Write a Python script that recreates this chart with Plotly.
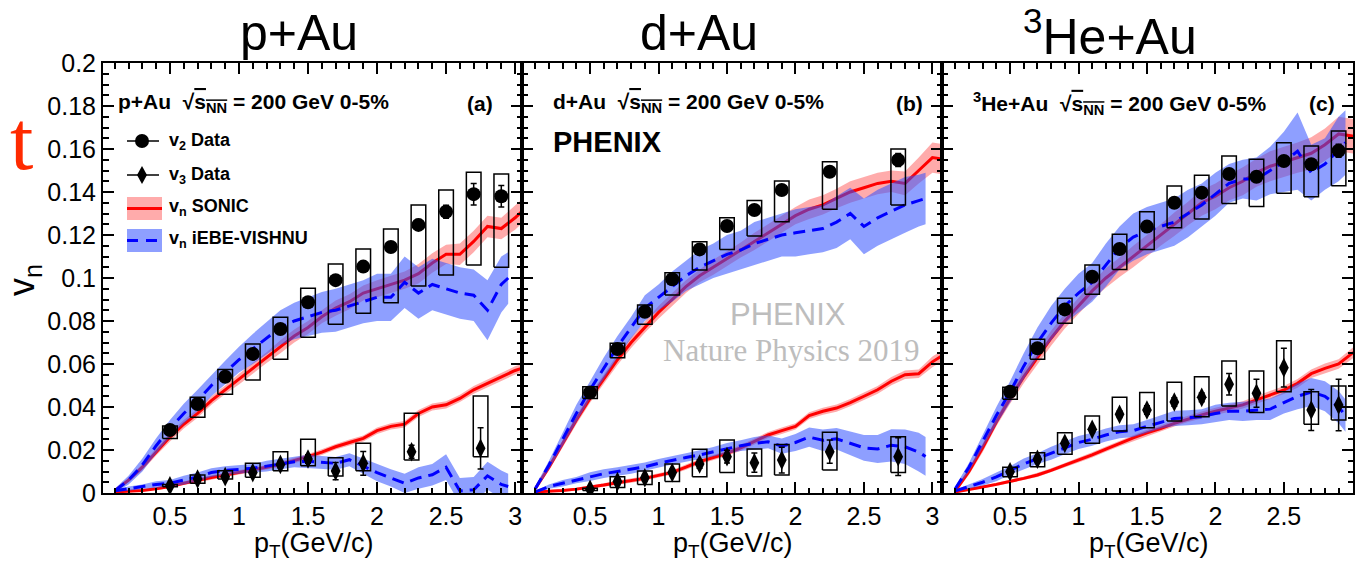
import plotly.graph_objects as go

W, H = 1358, 563

# ---------------- data ----------------
PT_SONIC = [0.1, 0.2, 0.3, 0.4, 0.5, 0.6, 0.7, 0.8, 0.9, 1.0, 1.1, 1.2, 1.3, 1.4, 1.5, 1.6,
            1.7, 1.8, 1.9, 2.0, 2.1, 2.2, 2.3, 2.4, 2.5, 2.6, 2.7, 2.8, 2.9, 3.0, 3.1]
PT_VISHNU = [0.1, 0.2, 0.3, 0.4, 0.5, 0.6, 0.7, 0.8, 0.9, 1.0, 1.1, 1.2, 1.3, 1.4, 1.5, 1.6,
             1.7, 1.8, 1.9, 2.0, 2.1, 2.2, 2.3, 2.4, 2.5, 2.6, 2.7, 2.8, 2.9, 2.95]

# ---- p+Au ----
PT_A_V2 = [0.5, 0.7, 0.9, 1.1, 1.3, 1.5, 1.7, 1.9, 2.1, 2.3, 2.5, 2.7, 2.9]
V2_A = [0.0293, 0.0414, 0.0541, 0.0647, 0.0763, 0.0887, 0.099, 0.1053, 0.1144, 0.1247, 0.1308, 0.139, 0.138]
V2_A_STAT = [0.0008, 0.0008, 0.001, 0.001, 0.0012, 0.0012, 0.0015, 0.0015, 0.002, 0.0025, 0.003, 0.005, 0.005]
V2_A_SYS_LO = [0.0254, 0.0352, 0.0459, 0.0526, 0.0622, 0.0724, 0.0785, 0.0836, 0.0885, 0.0963, 0.1014, 0.106, 0.105]
V2_A_SYS_HI = [0.0312, 0.0445, 0.0575, 0.0693, 0.0817, 0.0952, 0.1065, 0.1135, 0.1228, 0.134, 0.1409, 0.1492, 0.1484]
PT_A_V3 = [0.5, 0.7, 0.9, 1.1, 1.3, 1.5, 1.7, 1.9, 2.25, 2.75]
V3_A = [0.0034, 0.0065, 0.0076, 0.0095, 0.0133, 0.0158, 0.0102, 0.0138, 0.0192, 0.0208]
V3_A_STAT = [0.0012, 0.0015, 0.0015, 0.0015, 0.0015, 0.002, 0.004, 0.0055, 0.003, 0.0096]
V3_A_SYS_LO = [0.0029, 0.0045, 0.0065, 0.0073, 0.0104, 0.0127, 0.0079, 0.0104, 0.0153, 0.0169]
V3_A_SYS_HI = [0.0039, 0.0084, 0.0104, 0.0138, 0.0192, 0.025, 0.0164, 0.0231, 0.0371, 0.0451]

SONIC_V2_A = [0.001, 0.006, 0.012, 0.019, 0.026, 0.032, 0.037, 0.043, 0.048, 0.053, 0.058, 0.063, 0.068, 0.073, 0.077, 0.082,
              0.086, 0.089, 0.093, 0.095, 0.097, 0.099, 0.102, 0.107, 0.111, 0.111, 0.117, 0.124, 0.123, 0.128, 0.134]
SONIC_V2_A_ERR = [0.001, 0.001, 0.0015, 0.0015, 0.002, 0.002, 0.002, 0.002, 0.002, 0.0025, 0.0025, 0.0025, 0.003, 0.003, 0.003, 0.003,
                  0.0035, 0.0035, 0.0035, 0.004, 0.004, 0.004, 0.0045, 0.0045, 0.0045, 0.005, 0.005, 0.005, 0.005, 0.0055, 0.0055]
SONIC_V3_A = [0.0005, 0.0008, 0.0012, 0.002, 0.003, 0.0045, 0.006, 0.0072, 0.0084, 0.0095, 0.0107, 0.012, 0.0133, 0.015, 0.0169, 0.019,
              0.0215, 0.0235, 0.0254, 0.029, 0.031, 0.032, 0.037, 0.040, 0.041, 0.044, 0.048, 0.051, 0.054, 0.057, 0.059]
SONIC_V3_A_ERR = [0.0005, 0.0005, 0.0005, 0.0007, 0.0008, 0.0008, 0.001, 0.001, 0.001, 0.001, 0.001, 0.001, 0.0012, 0.0012, 0.0012, 0.0013,
                  0.0013, 0.0014, 0.0014, 0.0015, 0.0015, 0.0015, 0.0016, 0.0016, 0.0017, 0.0017, 0.0018, 0.0018, 0.0019, 0.0019, 0.002]
VISHNU_V2_A = [0.001, 0.006, 0.013, 0.022, 0.030, 0.037, 0.043, 0.050, 0.056, 0.062, 0.067, 0.072, 0.077, 0.080, 0.082,
               0.084, 0.085, 0.087, 0.089, 0.091, 0.091, 0.098, 0.093, 0.097, 0.095, 0.093, 0.092, 0.085, 0.097, 0.100]
VISHNU_V2_A_ERR = [0.001, 0.002, 0.003, 0.0035, 0.004, 0.0045, 0.005, 0.005, 0.0055, 0.006, 0.007, 0.0075, 0.008, 0.0085, 0.009,
                   0.0095, 0.01, 0.01, 0.01, 0.011, 0.011, 0.012, 0.012, 0.012, 0.012, 0.012, 0.012, 0.014, 0.013, 0.012]
VISHNU_V3_A = [0.001, 0.002, 0.003, 0.004, 0.0045, 0.006, 0.0075, 0.0095, 0.0105, 0.011, 0.0115, 0.0125, 0.0135, 0.0145, 0.0148,
               0.0142, 0.0138, 0.0155, 0.0125, 0.0095, 0.007, 0.0045, 0.007, 0.0085, 0.012, 0.001, 0.0015, 0.008, 0.004, 0.003]
VISHNU_V3_A_ERR = [0.0005, 0.001, 0.001, 0.0015, 0.0015, 0.002, 0.002, 0.002, 0.002, 0.002, 0.002, 0.0025, 0.0025, 0.0025, 0.003,
                   0.003, 0.003, 0.003, 0.0035, 0.004, 0.004, 0.0045, 0.005, 0.005, 0.006, 0.006, 0.006, 0.0065, 0.0065, 0.006]

# ---- d+Au ----
PT_B = [0.5, 0.7, 0.9, 1.1, 1.3, 1.5, 1.7, 1.9, 2.25, 2.75]
V2_B = [0.0468, 0.067, 0.0843, 0.0994, 0.1133, 0.1242, 0.1316, 0.1409, 0.1494, 0.1549]
V2_B_STAT = [0.0008, 0.0008, 0.001, 0.001, 0.0012, 0.0012, 0.0015, 0.0015, 0.002, 0.003]
V2_B_SYS_LO = [0.044, 0.0629, 0.0785, 0.0921, 0.1037, 0.1133, 0.1195, 0.1262, 0.132, 0.134]
V2_B_SYS_HI = [0.0494, 0.0696, 0.0874, 0.1025, 0.1169, 0.128, 0.136, 0.1451, 0.1541, 0.16]
V3_B = [0.0017, 0.0053, 0.0071, 0.0095, 0.0135, 0.0169, 0.0141, 0.0153, 0.0192, 0.0169]
V3_B_STAT = [0.0012, 0.0015, 0.0015, 0.0015, 0.002, 0.003, 0.0045, 0.006, 0.0054, 0.0088]
V3_B_SYS_LO = [0.0012, 0.0026, 0.004, 0.0053, 0.0076, 0.0095, 0.0079, 0.0084, 0.0107, 0.0095]
V3_B_SYS_HI = [0.0022, 0.0076, 0.0102, 0.0135, 0.0203, 0.0247, 0.0205, 0.0226, 0.0282, 0.0262]

SONIC_V2_B = [0.002, 0.012, 0.023, 0.034, 0.044, 0.053, 0.062, 0.070, 0.077, 0.084, 0.090, 0.096, 0.101, 0.105, 0.109, 0.113,
              0.117, 0.121, 0.125, 0.129, 0.132, 0.134, 0.137, 0.140, 0.142, 0.144, 0.145, 0.144, 0.150, 0.156, 0.155]
SONIC_V2_B_ERR = [0.001, 0.0015, 0.0015, 0.002, 0.002, 0.002, 0.0025, 0.0025, 0.0025, 0.003, 0.003, 0.003, 0.003, 0.0035, 0.0035, 0.0035,
                  0.004, 0.004, 0.004, 0.004, 0.0045, 0.0045, 0.0045, 0.005, 0.005, 0.005, 0.005, 0.0055, 0.006, 0.007, 0.007]
SONIC_V3_B = [0.0005, 0.0008, 0.0012, 0.0018, 0.0026, 0.0037, 0.0048, 0.0058, 0.0068, 0.0082, 0.0096, 0.012, 0.0146, 0.0165, 0.0185, 0.021,
              0.024, 0.027, 0.029, 0.031, 0.036, 0.038, 0.0395, 0.042, 0.045, 0.048, 0.052, 0.055, 0.0555, 0.061, 0.065]
SONIC_V3_B_ERR = [0.0005, 0.0005, 0.0005, 0.0007, 0.0008, 0.0008, 0.001, 0.001, 0.001, 0.001, 0.001, 0.0012, 0.0012, 0.0012, 0.0013, 0.0013,
                  0.0014, 0.0014, 0.0015, 0.0015, 0.0016, 0.0016, 0.0017, 0.0017, 0.0018, 0.0018, 0.0019, 0.002, 0.002, 0.0025, 0.0025]
VISHNU_V2_B = [0.002, 0.013, 0.025, 0.037, 0.048, 0.058, 0.068, 0.077, 0.086, 0.091, 0.096, 0.101, 0.105, 0.108, 0.111,
               0.113, 0.116, 0.118, 0.120, 0.121, 0.122, 0.123, 0.126, 0.130, 0.124, 0.128, 0.131, 0.134, 0.136, 0.137]
VISHNU_V2_B_ERR = [0.001, 0.002, 0.003, 0.004, 0.004, 0.005, 0.005, 0.005, 0.006, 0.006, 0.007, 0.007, 0.008, 0.008, 0.009,
                   0.009, 0.01, 0.01, 0.01, 0.011, 0.011, 0.011, 0.012, 0.012, 0.013, 0.013, 0.013, 0.013, 0.012, 0.012]
VISHNU_V3_B = [0.0005, 0.003, 0.0045, 0.006, 0.0076, 0.009, 0.010, 0.011, 0.0122, 0.0138, 0.0153, 0.0165, 0.0177, 0.0192, 0.0208,
               0.022, 0.0231, 0.0238, 0.0218, 0.0235, 0.026, 0.0245, 0.0252, 0.023, 0.021, 0.0205, 0.0222, 0.0215, 0.019, 0.017]
VISHNU_V3_B_ERR = [0.0005, 0.001, 0.0015, 0.0015, 0.002, 0.002, 0.002, 0.002, 0.002, 0.002, 0.002, 0.002, 0.0022, 0.0022, 0.0025,
                   0.0025, 0.003, 0.003, 0.0035, 0.004, 0.0045, 0.005, 0.005, 0.0055, 0.006, 0.0065, 0.0075, 0.008, 0.009, 0.009]

# ---- 3He+Au ----
PT_C = [0.5, 0.7, 0.9, 1.1, 1.3, 1.5, 1.7, 1.9, 2.1, 2.3, 2.5, 2.7, 2.9]
V2_C = [0.0471, 0.0673, 0.0854, 0.1006, 0.1135, 0.1239, 0.135, 0.1397, 0.1484, 0.1471, 0.1544, 0.1529, 0.1592]
V2_C_STAT = [0.0008, 0.0008, 0.001, 0.001, 0.001, 0.0012, 0.0012, 0.0015, 0.0015, 0.002, 0.002, 0.0025, 0.003]
V2_C_SYS_LO = [0.0436, 0.0622, 0.0789, 0.0924, 0.104, 0.1133, 0.1234, 0.1274, 0.1347, 0.1332, 0.1394, 0.1378, 0.1429]
V2_C_SYS_HI = [0.0492, 0.0715, 0.0906, 0.106, 0.1203, 0.1308, 0.1428, 0.1478, 0.1567, 0.1552, 0.1629, 0.1614, 0.1684]
V3_C = [0.0099, 0.0157, 0.0231, 0.0296, 0.0366, 0.0386, 0.0423, 0.0445, 0.0506, 0.0464, 0.0583, 0.0386, 0.0409]
V3_C_STAT = [0.0012, 0.0015, 0.0015, 0.0015, 0.0015, 0.002, 0.002, 0.002, 0.005, 0.0065, 0.009, 0.0095, 0.012]
V3_C_SYS_LO = [0.0076, 0.0122, 0.018, 0.0231, 0.0288, 0.0304, 0.0335, 0.0355, 0.0405, 0.0374, 0.0471, 0.032, 0.034]
V3_C_SYS_HI = [0.012, 0.0187, 0.028, 0.0358, 0.0445, 0.0467, 0.0515, 0.0541, 0.0614, 0.0567, 0.0708, 0.0471, 0.0498]

SONIC_V2_C = [0.001, 0.010, 0.021, 0.033, 0.044, 0.054, 0.063, 0.072, 0.080, 0.087, 0.094, 0.100, 0.105, 0.110, 0.115, 0.120,
              0.125, 0.130, 0.135, 0.138, 0.142, 0.145, 0.149, 0.152, 0.154, 0.156, 0.158, 0.162, 0.167, 0.166, 0.165]
SONIC_V2_C_ERR = [0.001, 0.0015, 0.002, 0.002, 0.0025, 0.003, 0.003, 0.0035, 0.0035, 0.004, 0.004, 0.0045, 0.0045, 0.005, 0.005, 0.005,
                  0.0055, 0.0055, 0.006, 0.006, 0.006, 0.0065, 0.0065, 0.007, 0.007, 0.007, 0.0075, 0.0075, 0.008, 0.008, 0.008]
SONIC_V3_C = [0.0005, 0.0015, 0.0028, 0.004, 0.0053, 0.0068, 0.0084, 0.0105, 0.013, 0.0153, 0.0177, 0.0204, 0.0231, 0.0256, 0.028, 0.030,
              0.0324, 0.0345, 0.0363, 0.038, 0.0394, 0.041, 0.0433, 0.0455, 0.0479, 0.051, 0.0555, 0.058, 0.060, 0.065, 0.068]
SONIC_V3_C_ERR = [0.0005, 0.0005, 0.0006, 0.0007, 0.0008, 0.0008, 0.001, 0.001, 0.001, 0.0011, 0.0012, 0.0012, 0.0013, 0.0013, 0.0014, 0.0014,
                  0.0015, 0.0015, 0.0016, 0.0016, 0.0017, 0.0017, 0.0018, 0.0018, 0.0019, 0.002, 0.002, 0.0022, 0.0022, 0.0025, 0.0025]
VISHNU_V2_C = [0.002, 0.012, 0.024, 0.036, 0.047, 0.059, 0.070, 0.079, 0.087, 0.093, 0.098, 0.106, 0.114, 0.119, 0.122,
               0.124, 0.126, 0.130, 0.134, 0.139, 0.144, 0.146, 0.146, 0.150, 0.154, 0.159, 0.149, 0.153, 0.160, 0.163]
VISHNU_V2_C_ERR = [0.001, 0.002, 0.003, 0.004, 0.005, 0.006, 0.007, 0.008, 0.008, 0.009, 0.009, 0.01, 0.01, 0.011, 0.011,
                   0.011, 0.011, 0.011, 0.01, 0.01, 0.009, 0.009, 0.01, 0.011, 0.014, 0.018, 0.013, 0.012, 0.015, 0.015]
VISHNU_V3_C = [0.001, 0.003, 0.005, 0.0075, 0.0105, 0.0135, 0.016, 0.0185, 0.021, 0.0235, 0.025, 0.027, 0.0285, 0.029, 0.031,
               0.033, 0.0347, 0.035, 0.0355, 0.037, 0.038, 0.038, 0.0385, 0.039, 0.042, 0.045, 0.047, 0.045, 0.040, 0.036]
VISHNU_V3_C_ERR = [0.0005, 0.001, 0.0015, 0.002, 0.002, 0.0025, 0.0025, 0.003, 0.003, 0.003, 0.003, 0.003, 0.003, 0.003, 0.003,
                   0.003, 0.0035, 0.0035, 0.0035, 0.004, 0.004, 0.0045, 0.0045, 0.005, 0.005, 0.006, 0.0065, 0.007, 0.0075, 0.0075]

SYSTEMS = ["p+Au", "d+Au", "<sup>3</sup>He+Au"]
PANEL_TAGS = ["(a)", "(b)", "(c)"]
X_TICKS = [0.5, 1, 1.5, 2, 2.5, 3]
X_TICK_TEXT = ["0.5", "1", "1.5", "2", "2.5", "3"]
Y_TICKS = [0, 0.02, 0.04, 0.06, 0.08, 0.1, 0.12, 0.14, 0.16, 0.18, 0.2]
Y_TICK_TEXT = ["0", "0.02", "0.04", "0.06", "0.08", "0.1", "0.12", "0.14", "0.16", "0.18", "0.2"]

PANELS = [
    dict(pt2=PT_A_V2, v2=V2_A, v2s=V2_A_STAT, v2lo=V2_A_SYS_LO, v2hi=V2_A_SYS_HI,
         pt3=PT_A_V3, v3=V3_A, v3s=V3_A_STAT, v3lo=V3_A_SYS_LO, v3hi=V3_A_SYS_HI,
         s2=SONIC_V2_A, s2e=SONIC_V2_A_ERR, s3=SONIC_V3_A, s3e=SONIC_V3_A_ERR,
         h2=VISHNU_V2_A, h2e=VISHNU_V2_A_ERR, h3=VISHNU_V3_A, h3e=VISHNU_V3_A_ERR),
    dict(pt2=PT_B, v2=V2_B, v2s=V2_B_STAT, v2lo=V2_B_SYS_LO, v2hi=V2_B_SYS_HI,
         pt3=PT_B, v3=V3_B, v3s=V3_B_STAT, v3lo=V3_B_SYS_LO, v3hi=V3_B_SYS_HI,
         s2=SONIC_V2_B, s2e=SONIC_V2_B_ERR, s3=SONIC_V3_B, s3e=SONIC_V3_B_ERR,
         h2=VISHNU_V2_B, h2e=VISHNU_V2_B_ERR, h3=VISHNU_V3_B, h3e=VISHNU_V3_B_ERR),
    dict(pt2=PT_C, v2=V2_C, v2s=V2_C_STAT, v2lo=V2_C_SYS_LO, v2hi=V2_C_SYS_HI,
         pt3=PT_C, v3=V3_C, v3s=V3_C_STAT, v3lo=V3_C_SYS_LO, v3hi=V3_C_SYS_HI,
         s2=SONIC_V2_C, s2e=SONIC_V2_C_ERR, s3=SONIC_V3_C, s3e=SONIC_V3_C_ERR,
         h2=VISHNU_V2_C, h2e=VISHNU_V2_C_ERR, h3=VISHNU_V3_C, h3e=VISHNU_V3_C_ERR),
]

# ---------------- styles ----------------
RED = "#ff0000"
RED_BAND = "rgba(255,0,0,0.33)"
BLUE = "#0000ff"
BLUE_BAND = "rgba(50,80,255,0.55)"
DASH = "12px,7px"
BOX_HW = 0.053
FONT = "Liberation Sans, Arial, Helvetica, sans-serif"

X_RANGES = [[0.015, 3.05], [0.003, 3.07], [0.003, 3.005]]
X_DOMAINS_PX = [(103, 522), (522, 942), (942, 1353)]
Y_DOMAIN_PX = (493, 63)


def band_poly(x, c, e):
    xs = list(x) + list(x)[::-1]
    ys = [a + b for a, b in zip(c, e)] + [a - b for a, b in zip(c, e)][::-1]
    return xs, ys


def box_poly(x, lo, hi, hw):
    xs, ys = [], []
    for p, l, h in zip(x, lo, hi):
        xs += [p - hw, p + hw, p + hw, p - hw, p - hw, None]
        ys += [l, l, h, h, l, None]
    return xs, ys


fig = go.Figure()

for i, P in enumerate(PANELS):
    xa = "x" if i == 0 else f"x{i+1}"
    ya = "y" if i == 0 else f"y{i+1}"
    common = dict(xaxis=xa, yaxis=ya, showlegend=False, hoverinfo="skip")
    # SONIC bands + lines
    for key in ("s2", "s3"):
        bx, by = band_poly(PT_SONIC, P[key], P[key + "e"])
        fig.add_trace(go.Scatter(x=bx, y=by, fill="toself", fillcolor=RED_BAND,
                                 line=dict(width=0), mode="lines", **common))
    for key in ("s2", "s3"):
        fig.add_trace(go.Scatter(x=PT_SONIC, y=P[key], mode="lines",
                                 line=dict(color=RED, width=3), **common))
    # VISHNU bands + lines
    for key in ("h2", "h3"):
        bx, by = band_poly(PT_VISHNU, P[key], P[key + "e"])
        fig.add_trace(go.Scatter(x=bx, y=by, fill="toself", fillcolor=BLUE_BAND,
                                 line=dict(width=0), mode="lines", **common))
    for key in ("h2", "h3"):
        fig.add_trace(go.Scatter(x=PT_VISHNU, y=P[key], mode="lines",
                                 line=dict(color=BLUE, width=3, dash=DASH), **common))
    # systematic boxes
    for pt, lo, hi in ((P["pt2"], P["v2lo"], P["v2hi"]), (P["pt3"], P["v3lo"], P["v3hi"])):
        bx, by = box_poly(pt, lo, hi, BOX_HW)
        fig.add_trace(go.Scatter(x=bx, y=by, mode="lines",
                                 line=dict(color="black", width=1.5), **common))
    # data points
    fig.add_trace(go.Scatter(x=P["pt2"], y=P["v2"], mode="markers",
                             marker=dict(symbol="circle", size=14, color="black"),
                             error_y=dict(type="data", array=P["v2s"], color="black",
                                          thickness=1.5, width=3), **common))
    fig.add_trace(go.Scatter(x=P["pt3"], y=P["v3"], mode="markers",
                             marker=dict(symbol="diamond-tall", size=14, color="black"),
                             error_y=dict(type="data", array=P["v3s"], color="black",
                                          thickness=1.5, width=3), **common))

# ---------------- axes ----------------
tickfont = dict(family=FONT, size=25, color="black")
layout_axes = {}
for i in range(3):
    xname = "xaxis" if i == 0 else f"xaxis{i+1}"
    yname = "yaxis" if i == 0 else f"yaxis{i+1}"
    x0, x1 = X_DOMAINS_PX[i]
    layout_axes[xname] = dict(
        domain=[x0 / W, x1 / W], range=X_RANGES[i], anchor="y" if i == 0 else f"y{i+1}",
        automargin=False,
        showline=True, linecolor="black", linewidth=2, mirror="allticks",
        ticks="inside", ticklen=11, tickwidth=1.5, tickcolor="black",
        tickmode="array", tickvals=X_TICKS, ticktext=X_TICK_TEXT, tickfont=tickfont,
        minor=dict(ticks="inside", ticklen=5.5, tickwidth=1.5, tickcolor="black",
                   tickmode="linear", tick0=0, dtick=0.1, showgrid=False),
        showgrid=False, zeroline=False,
    )
    layout_axes[yname] = dict(
        domain=[1 - Y_DOMAIN_PX[0] / H, 1 - Y_DOMAIN_PX[1] / H], range=[0, 0.2],
        anchor="x" if i == 0 else f"x{i+1}",
        automargin=False,
        showline=True, linecolor="black", linewidth=2, mirror="allticks",
        ticks="inside", ticklen=11, tickwidth=1.5, tickcolor="black",
        tickmode="array", tickvals=Y_TICKS, ticktext=Y_TICK_TEXT, tickfont=tickfont,
        showticklabels=(i == 0),
        minor=dict(ticks="inside", ticklen=5.5, tickwidth=1.5, tickcolor="black",
                   tickmode="linear", tick0=0, dtick=0.005, showgrid=False),
        showgrid=False, zeroline=False,
    )


def ann(text, x, y, size, xanchor="center", yanchor="middle", color="black",
        family=FONT, angle=0):
    return dict(xref="paper", yref="paper", x=x / W, y=1 - y / H, text=text,
                showarrow=False, xanchor=xanchor, yanchor=yanchor, textangle=angle,
                font=dict(family=family, size=size, color=color), borderpad=0)


SQRT = "\u221a<span style='text-decoration:overline'>s<sub>NN</sub></span>"
annotations = []
title_x = [299, 699, 1110]
for i in range(3):
    annotations.append(ann(SYSTEMS[i], title_x[i], 33, 50))
    x0, x1 = X_DOMAINS_PX[i]
    annotations.append(ann("p<sub>T</sub>(GeV/c)", (x0 + x1) / 2 + 1, 563, 27, yanchor="bottom"))

header_x = [117, 552, 972]
sys_plain = ["p+Au", "d+Au", "<sup>3</sup>He+Au"]
tag_x = [480, 910, 1322]
for i in range(3):
    annotations.append(ann(f"<b>{sys_plain[i]}  {SQRT} = 200 GeV 0-5%</b>", header_x[i], 103, 21,
                           xanchor="left"))
    annotations.append(ann(f"<b>{PANEL_TAGS[i]}</b>", tag_x[i], 103, 21))

annotations.append(ann("<b>PHENIX</b>", 552, 142, 29, xanchor="left"))
annotations.append(ann("PHENIX", 788, 314, 31, color="#bdbdbd"))
annotations.append(ann("Nature Physics 2019", 791, 350, 31, color="#bdbdbd",
                       family="Liberation Serif, Times New Roman, serif"))
annotations.append(ann("v<sub>n</sub>", 24, 280, 36, angle=-90))
annotations.append(ann("t", 21, 140, 84, color="#ff2a00",
                       family="Liberation Serif, Times New Roman, serif"))

# legend (panel a)
LEG_TEXT = ["v<sub>2</sub> Data", "v<sub>3</sub> Data", "v<sub>n</sub> SONIC", "v<sub>n</sub> iEBE-VISHNU"]
LEG_Y = [141, 175, 208, 240]
for t, yy in zip(LEG_TEXT, LEG_Y):
    annotations.append(ann(f"<b>{t}</b>", 168, yy, 18, xanchor="left"))


def pxx(x):
    return x / W


def pyy(y):
    return 1 - y / H


shapes = []
# v2 legend: line + circle
shapes.append(dict(type="line", xref="paper", yref="paper", x0=pxx(127), x1=pxx(159),
                   y0=pyy(141), y1=pyy(141), line=dict(color="black", width=1.5)))
shapes.append(dict(type="circle", xref="paper", yref="paper", x0=pxx(135), x1=pxx(149),
                   y0=pyy(148), y1=pyy(134), fillcolor="black", line=dict(color="black", width=0)))
# v3 legend: line + diamond
shapes.append(dict(type="line", xref="paper", yref="paper", x0=pxx(127), x1=pxx(159),
                   y0=pyy(175), y1=pyy(175), line=dict(color="black", width=1.5)))
dpath = (f"M {pxx(142)},{pyy(166)} L {pxx(147)},{pyy(175)} L {pxx(142)},{pyy(184)} "
         f"L {pxx(137)},{pyy(175)} Z")
shapes.append(dict(type="path", xref="paper", yref="paper", path=dpath,
                   fillcolor="black", line=dict(color="black", width=0)))
# SONIC legend
shapes.append(dict(type="rect", xref="paper", yref="paper", x0=pxx(127), x1=pxx(162),
                   y0=pyy(220), y1=pyy(197), fillcolor=RED_BAND, line=dict(width=0)))
shapes.append(dict(type="line", xref="paper", yref="paper", x0=pxx(127), x1=pxx(162),
                   y0=pyy(208.5), y1=pyy(208.5), line=dict(color=RED, width=3)))
# VISHNU legend
shapes.append(dict(type="rect", xref="paper", yref="paper", x0=pxx(127), x1=pxx(162),
                   y0=pyy(252), y1=pyy(229), fillcolor=BLUE_BAND, line=dict(width=0)))
shapes.append(dict(type="line", xref="paper", yref="paper", x0=pxx(127), x1=pxx(162),
                   y0=pyy(240.5), y1=pyy(240.5), line=dict(color=BLUE, width=3, dash="11px,8px")))

fig.update_layout(
    width=W, height=H, margin=dict(l=0, r=0, t=0, b=0, autoexpand=False),
    paper_bgcolor="white", plot_bgcolor="rgba(0,0,0,0)",
    font=dict(family=FONT, color="black"),
    annotations=annotations, shapes=shapes, showlegend=False,
    **layout_axes,
)

fig.write_html("out.html")
